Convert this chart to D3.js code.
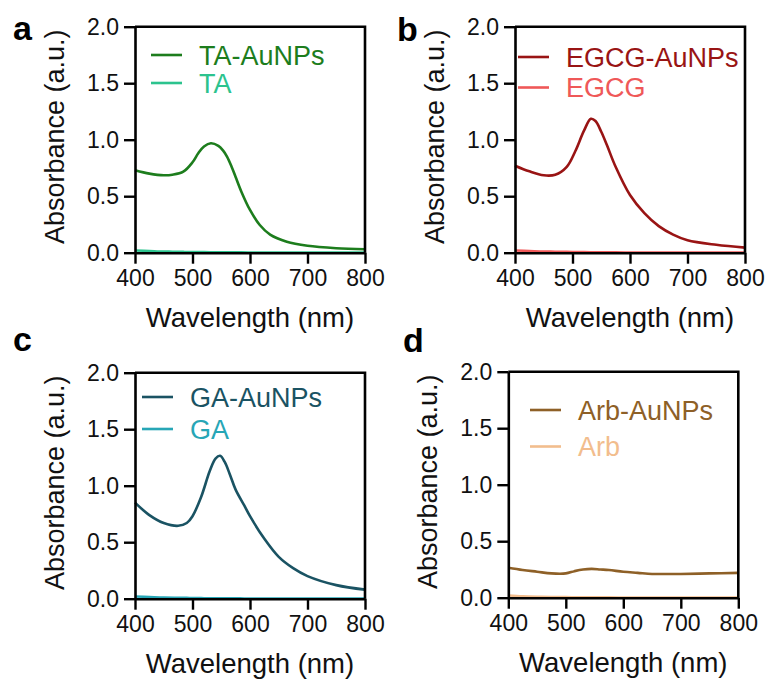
<!DOCTYPE html>
<html>
<head>
<meta charset="utf-8">
<script src="https://cdn.jsdelivr.net/npm/d3@7"></script>
<style>
  body { margin: 0; background: #fff; }
  text { font-family: "Liberation Sans", Arial, sans-serif; }
</style>
</head>
<body>
<div id="chart"></div>
<script>
// wavelengths (nm) sampled from each panel's spectra
var wlA = [400, 425, 450, 465, 484, 500, 510, 520, 532, 545, 553, 560, 568, 575, 585, 600, 617, 635, 664, 700, 750, 800];
var taAu   = [0.73, 0.70, 0.685, 0.69, 0.717, 0.80, 0.88, 0.94, 0.968, 0.945, 0.905, 0.85, 0.761, 0.67, 0.54, 0.378, 0.245, 0.16, 0.097, 0.062, 0.04, 0.03];
var ta     = [0.02, 0.015, 0.01, 0.009, 0.007, 0.006, 0.005, 0.005, 0.004, 0.004, 0.004, 0.003, 0.003, 0.003, 0.003, 0.002, 0.002, 0.002, 0.002, 0.001, 0.001, 0.001];

var wlB = [400, 425, 450, 470, 490, 505, 520, 532, 540, 550, 560, 575, 600, 625, 650, 675, 700, 750, 800];
var egcgAu = [0.77, 0.72, 0.685, 0.69, 0.76, 0.90, 1.08, 1.185, 1.165, 1.07, 0.95, 0.76, 0.51, 0.35, 0.235, 0.16, 0.11, 0.07, 0.045];
var egcg   = [0.02, 0.015, 0.01, 0.009, 0.007, 0.006, 0.005, 0.004, 0.004, 0.004, 0.003, 0.003, 0.002, 0.002, 0.002, 0.001, 0.001, 0.001, 0.001];

var wlC = [400, 425, 450, 475, 490, 500, 515, 530, 540, 548, 556, 565, 575, 590, 600, 625, 650, 675, 700, 750, 800];
var gaAu   = [0.85, 0.74, 0.67, 0.645, 0.67, 0.73, 0.90, 1.13, 1.24, 1.265, 1.21, 1.10, 0.965, 0.825, 0.73, 0.53, 0.37, 0.27, 0.20, 0.12, 0.08];
var ga     = [0.02, 0.015, 0.01, 0.008, 0.007, 0.006, 0.005, 0.004, 0.004, 0.004, 0.003, 0.003, 0.003, 0.002, 0.002, 0.002, 0.002, 0.001, 0.001, 0.001, 0.001];

var wlD = [400, 425, 450, 475, 500, 515, 530, 545, 560, 575, 600, 625, 650, 675, 700, 750, 800];
var arbAu  = [0.265, 0.245, 0.23, 0.215, 0.215, 0.235, 0.25, 0.255, 0.25, 0.245, 0.23, 0.22, 0.21, 0.21, 0.21, 0.215, 0.22];
var arb    = [0.02, 0.012, 0.008, 0.006, 0.005, 0.004, 0.004, 0.003, 0.003, 0.003, 0.002, 0.002, 0.002, 0.001, 0.001, 0.001, 0.001];

var xTicks = [400, 500, 600, 700, 800];
var yTicks = [0, 0.5, 1.0, 1.5, 2.0];

var panelLetters = ["a", "b", "c", "d"];
var panelWl = [wlA, wlB, wlC, wlD];
var seriesNames = [["TA-AuNPs", "TA"], ["EGCG-AuNPs", "EGCG"], ["GA-AuNPs", "GA"], ["Arb-AuNPs", "Arb"]];
var seriesValues = [[taAu, ta], [egcgAu, egcg], [gaAu, ga], [arbAu, arb]];
var seriesColors = [["#1d7d1d", "#2cc38e"], ["#991414", "#ef5858"], ["#1a5363", "#27a6b6"], ["#8e6027", "#f2bd8d"]];

// layout of each panel (plot box, letter, legend)
var layout = [
  {left: 135, top: 26.7, lx: 13, ly: 39.5, gx: 151, gy: 55, gs: 28},
  {left: 515, top: 26.7, lx: 397, ly: 41, gx: 518, gy: 57, gs: 30.5},
  {left: 135, top: 372.7, lx: 13, ly: 351, gx: 142, gy: 397, gs: 32},
  {left: 508.3, top: 371.7, lx: 403, ly: 352, gx: 530, gy: 410, gs: 36.5}
];
var W = 230, H = 226;

var svg = d3.select("#chart").append("svg")
  .attr("width", 769)
  .attr("height", 681);

layout.forEach(function(p, i) {
  var x = d3.scaleLinear().domain([400, 800]).range([0, W]);
  var y = d3.scaleLinear().domain([0, 2]).range([H, 0]);

  var g = svg.append("g").attr("transform", "translate(" + p.left + "," + p.top + ")");

  // curves
  var line = d3.line()
    .x(function(d) { return x(d[0]); })
    .y(function(d) { return y(d[1]); })
    .curve(d3.curveCatmullRom.alpha(0.5));

  var wl = panelWl[i];
  seriesValues[i].slice().reverse().forEach(function(vals, k) {
    var j = seriesValues[i].length - 1 - k;
    g.append("path")
      .datum(wl.map(function(w, n) { return [w, vals[n]]; }))
      .attr("d", line)
      .style("fill", "none")
      .style("stroke", seriesColors[i][j])
      .style("stroke-width", 2.6);
  });

  // frame (top + right)
  g.append("path")
    .attr("d", "M0,0H" + W + "V" + H)
    .style("fill", "none")
    .style("stroke", "#000")
    .style("stroke-width", 2.6);

  var xAxis = g.append("g")
    .attr("transform", "translate(0," + H + ")")
    .call(d3.axisBottom(x).tickValues(xTicks).tickSize(11).tickPadding(6).tickSizeOuter(0));
  var yAxis = g.append("g")
    .call(d3.axisLeft(y).tickValues(yTicks).tickSize(11).tickPadding(5).tickSizeOuter(0)
      .tickFormat(d3.format(".1f")));

  [xAxis, yAxis].forEach(function(a) {
    a.select(".domain").style("stroke", "#000").style("stroke-width", 2.6);
    a.selectAll(".tick line").style("stroke", "#000").style("stroke-width", 2.4);
    a.selectAll(".tick text")
      .style("font-family", "'Liberation Sans', Arial, sans-serif")
      .style("font-size", "23px")
      .style("fill", "#111");
  });

  // axis titles
  g.append("text")
    .attr("x", W / 2)
    .attr("y", H + 74)
    .attr("text-anchor", "middle")
    .style("font-size", "27.5px")
    .style("fill", "#111")
    .text("Wavelength (nm)");

  g.append("text")
    .attr("transform", "translate(-71," + (H / 2 - 3) + ") rotate(-90)")
    .attr("text-anchor", "middle")
    .style("font-size", "27px")
    .style("fill", "#111")
    .text("Absorbance (a.u.)");

  // panel letter
  svg.append("text")
    .attr("x", p.lx)
    .attr("y", p.ly)
    .style("font-size", "34px")
    .style("font-weight", "bold")
    .style("fill", "#000")
    .text(panelLetters[i]);

  // legend
  seriesNames[i].forEach(function(name, j) {
    var yy = p.gy + j * p.gs;
    svg.append("line")
      .attr("x1", p.gx).attr("x2", p.gx + 31)
      .attr("y1", yy).attr("y2", yy)
      .style("stroke", seriesColors[i][j])
      .style("stroke-width", 2.6);
    svg.append("text")
      .attr("x", p.gx + 48)
      .attr("y", yy)
      .attr("dy", "0.36em")
      .style("font-size", "27px")
      .style("fill", seriesColors[i][j])
      .text(name);
  });
});
</script>
</body>
</html>
